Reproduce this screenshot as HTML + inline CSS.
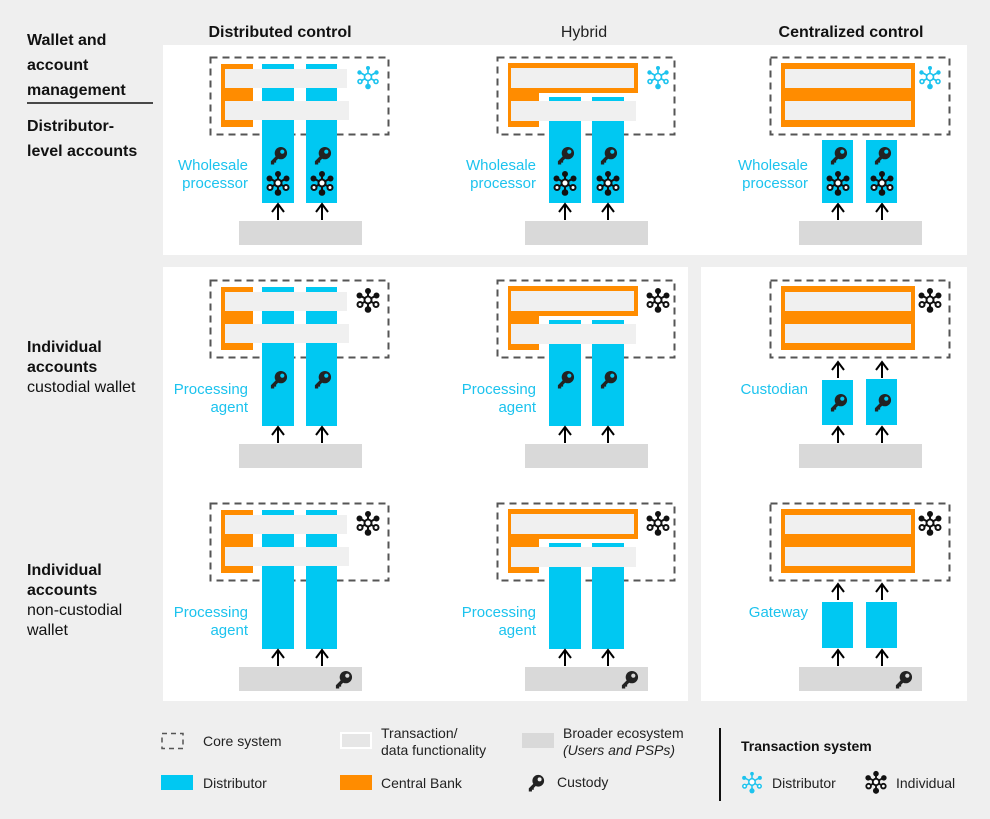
<!DOCTYPE html>
<html><head><meta charset="utf-8"><style>
html,body{margin:0;padding:0;background:#efefef}
svg{display:block;font-family:"Liberation Sans",sans-serif}
</style></head><body>
<svg width="990" height="819" viewBox="0 0 990 819" xmlns="http://www.w3.org/2000/svg">
<defs>
<symbol id="key" viewBox="0 0 20 20" overflow="visible">
<circle cx="12.5" cy="7.5" r="6.5" fill="#222"/>
<path d="M8.5 9.5 L2 16 L2 19.5 L5.5 19.5 L5.5 17.5 L7.5 17.5 L7.5 15.5 L12 11z" fill="#222"/>
<circle cx="14" cy="6" r="2.2"/>
</symbol>
<symbol id="ind" viewBox="0 0 26 26" overflow="visible">
<g stroke="#111" stroke-width="2" fill="none">
<line x1="13" y1="13" x2="13" y2="4"/><line x1="13" y1="13" x2="21" y2="8.5"/><line x1="13" y1="13" x2="21" y2="17.5"/><line x1="13" y1="13" x2="13" y2="22"/><line x1="13" y1="13" x2="5" y2="17.5"/><line x1="13" y1="13" x2="5" y2="8.5"/>
<circle cx="13" cy="13" r="3.5" fill="#fff"/>
<circle cx="21" cy="17.5" r="2.5" fill="#fff"/><circle cx="5" cy="17.5" r="2.5" fill="#fff"/>
</g>
<circle cx="13" cy="4" r="3" fill="#111"/><circle cx="21.5" cy="8.5" r="3" fill="#111"/><circle cx="4.5" cy="8.5" r="3" fill="#111"/><circle cx="13" cy="22.5" r="3.3" fill="#111"/>
</symbol>
<symbol id="dis" viewBox="0 0 26 26" overflow="visible">
<g stroke="#1cc3ee" stroke-width="1.6" fill="none">
<line x1="13" y1="13" x2="13" y2="4"/><line x1="13" y1="13" x2="21" y2="8.5"/><line x1="13" y1="13" x2="21" y2="17.5"/><line x1="13" y1="13" x2="13" y2="22"/><line x1="13" y1="13" x2="5" y2="17.5"/><line x1="13" y1="13" x2="5" y2="8.5"/>
<circle cx="13" cy="13" r="3.5" fill="#fff"/>
<circle cx="21" cy="17.5" r="2" fill="#fff"/><circle cx="5" cy="17.5" r="2" fill="#fff"/>
</g>
<circle cx="13" cy="4" r="2" fill="#1cc3ee"/><circle cx="21.5" cy="8.5" r="2.2" fill="#1cc3ee"/><circle cx="4.5" cy="8.5" r="2.2" fill="#1cc3ee"/><circle cx="13" cy="22.5" r="2.8" fill="#1cc3ee"/>
</symbol>
<g id="arr"><line x1="0" y1="0" x2="0" y2="-16" stroke="#000" stroke-width="2"/><polyline points="-6,-8 0,-16 6,-8" fill="none" stroke="#000" stroke-width="2"/></g>
</defs>

<!-- panels -->
<rect x="163" y="45" width="804" height="210" fill="#fff"/>
<rect x="163" y="267" width="525" height="434" fill="#fff"/>
<rect x="701" y="267" width="266" height="434" fill="#fff"/>

<!-- headers -->
<text x="280" y="37" text-anchor="middle" font-size="16" font-weight="bold" fill="#111">Distributed control</text>
<text x="584" y="37" text-anchor="middle" font-size="16" fill="#222">Hybrid</text>
<text x="851" y="37" text-anchor="middle" font-size="16" font-weight="bold" fill="#111">Centralized control</text>

<g font-size="16" fill="#111">
<text x="27" y="45" font-weight="bold">Wallet and</text>
<text x="27" y="70" font-weight="bold">account</text>
<text x="27" y="95" font-weight="bold">management</text>
<line x1="27" y1="103" x2="153" y2="103" stroke="#111" stroke-width="1.5"/>
<text x="27" y="131" font-weight="bold">Distributor-</text>
<text x="27" y="156" font-weight="bold">level accounts</text>
<text x="27" y="352" font-weight="bold">Individual</text>
<text x="27" y="372" font-weight="bold">accounts</text>
<text x="27" y="392">custodial wallet</text>
<text x="27" y="575" font-weight="bold">Individual</text>
<text x="27" y="595" font-weight="bold">accounts</text>
<text x="27" y="615">non-custodial</text>
<text x="27" y="635">wallet</text>
</g>

<!-- DISTRIBUTED template -->
<g id="distT">
<rect x="210.5" y="57.5" width="178" height="77" fill="none" stroke="#555" stroke-width="2" stroke-dasharray="7 5"/>
<rect x="221" y="64" width="32" height="63" fill="#ff8c00"/>
<rect x="262" y="64" width="32" height="139" fill="#00c8f2"/>
<rect x="306" y="64" width="31" height="139" fill="#00c8f2"/>
<rect x="225" y="69" width="122" height="19" fill="#f0f0f0"/>
<rect x="225" y="101" width="124" height="19" fill="#f0f0f0"/>
<use href="#arr" x="278" y="220"/><use href="#arr" x="322" y="220"/>
<rect x="239" y="221" width="123" height="24" fill="#d9d9d9"/>
</g>
<use href="#distT" y="223"/>
<use href="#distT" y="446"/>
<use href="#dis" x="355" y="64" width="26" height="26"/>
<use href="#ind" x="355" y="287" width="26" height="26"/>
<use href="#ind" x="355" y="510" width="26" height="26"/>
<use href="#key" x="269" y="145" width="19" height="21" fill="#00c8f2"/>
<use href="#key" x="313" y="145" width="19" height="21" fill="#00c8f2"/>
<use href="#ind" x="265" y="170" width="26" height="26"/>
<use href="#ind" x="309" y="170" width="26" height="26"/>
<use href="#key" x="269" y="369" width="19" height="21" fill="#00c8f2"/>
<use href="#key" x="313" y="369" width="19" height="21" fill="#00c8f2"/>
<use href="#key" x="334" y="669" width="19" height="21" fill="#d9d9d9"/>

<!-- HYBRID template -->
<g id="hybT">
<rect x="497.5" y="57.5" width="177" height="77" fill="none" stroke="#555" stroke-width="2" stroke-dasharray="7 5"/>
<rect x="508" y="63" width="130" height="30" fill="#ff8c00"/>
<rect x="508" y="63" width="31" height="64" fill="#ff8c00"/>
<rect x="549" y="97" width="32" height="106" fill="#00c8f2"/>
<rect x="592" y="97" width="32" height="106" fill="#00c8f2"/>
<rect x="511" y="68" width="123" height="20" fill="#f0f0f0"/>
<rect x="511" y="101" width="125" height="20" fill="#f0f0f0"/>
<use href="#arr" x="565" y="220"/><use href="#arr" x="608" y="220"/>
<rect x="525" y="221" width="123" height="24" fill="#d9d9d9"/>
</g>
<use href="#hybT" y="223"/>
<use href="#hybT" y="446"/>
<use href="#dis" x="645" y="64" width="26" height="26"/>
<use href="#ind" x="645" y="287" width="26" height="26"/>
<use href="#ind" x="645" y="510" width="26" height="26"/>
<use href="#key" x="556" y="145" width="19" height="21" fill="#00c8f2"/>
<use href="#key" x="599" y="145" width="19" height="21" fill="#00c8f2"/>
<use href="#ind" x="552" y="170" width="26" height="26"/>
<use href="#ind" x="595" y="170" width="26" height="26"/>
<use href="#key" x="556" y="369" width="19" height="21" fill="#00c8f2"/>
<use href="#key" x="599" y="369" width="19" height="21" fill="#00c8f2"/>
<use href="#key" x="620" y="669" width="19" height="21" fill="#d9d9d9"/>

<!-- CENTRALIZED -->
<g id="cenT">
<rect x="770.5" y="57.5" width="179" height="77" fill="none" stroke="#555" stroke-width="2" stroke-dasharray="7 5"/>
<rect x="781" y="63" width="134" height="64" fill="#ff8c00"/>
<rect x="785" y="69" width="126" height="19" fill="#f0f0f0"/>
<rect x="785" y="101" width="126" height="19" fill="#f0f0f0"/>
<use href="#arr" x="838" y="220"/><use href="#arr" x="882" y="220"/>
<rect x="799" y="221" width="123" height="24" fill="#d9d9d9"/>
</g>
<use href="#cenT" y="223"/>
<use href="#cenT" y="446"/>
<rect x="822" y="140" width="31" height="63" fill="#00c8f2"/>
<rect x="866" y="140" width="31" height="63" fill="#00c8f2"/>
<use href="#dis" x="917" y="64" width="26" height="26"/>
<use href="#key" x="829" y="145" width="19" height="21" fill="#00c8f2"/>
<use href="#key" x="873" y="145" width="19" height="21" fill="#00c8f2"/>
<use href="#ind" x="825" y="170" width="26" height="26"/>
<use href="#ind" x="869" y="170" width="26" height="26"/>
<!-- row2 -->
<rect x="822" y="380" width="31" height="45" fill="#00c8f2"/>
<rect x="866" y="379" width="31" height="46" fill="#00c8f2"/>
<use href="#arr" x="838" y="378"/><use href="#arr" x="882" y="378"/>
<use href="#ind" x="917" y="287" width="26" height="26"/>
<use href="#key" x="829" y="392" width="19" height="21" fill="#00c8f2"/>
<use href="#key" x="873" y="392" width="19" height="21" fill="#00c8f2"/>
<!-- row3 -->
<rect x="822" y="602" width="31" height="46" fill="#00c8f2"/>
<rect x="866" y="602" width="31" height="46" fill="#00c8f2"/>
<use href="#arr" x="838" y="600"/><use href="#arr" x="882" y="600"/>
<use href="#ind" x="917" y="510" width="26" height="26"/>
<use href="#key" x="894" y="669" width="19" height="21" fill="#d9d9d9"/>

<!-- cell labels -->
<g font-size="15" fill="#1cc3ee" text-anchor="end">
<text x="248" y="170">Wholesale</text><text x="248" y="188">processor</text>
<text x="536" y="170">Wholesale</text><text x="536" y="188">processor</text>
<text x="808" y="170">Wholesale</text><text x="808" y="188">processor</text>
<text x="248" y="394">Processing</text><text x="248" y="412">agent</text>
<text x="536" y="394">Processing</text><text x="536" y="412">agent</text>
<text x="808" y="394">Custodian</text>
<text x="248" y="617">Processing</text><text x="248" y="635">agent</text>
<text x="536" y="617">Processing</text><text x="536" y="635">agent</text>
<text x="808" y="617">Gateway</text>
</g>

<!-- legend -->
<g font-size="14" fill="#222">
<rect x="162" y="733.5" width="21" height="15" fill="none" stroke="#555" stroke-width="1.5" stroke-dasharray="5 4"/>
<text x="203" y="746">Core system</text>
<rect x="341" y="733" width="30" height="15" fill="#e6e6e6" stroke="#fff" stroke-width="2"/>
<text x="381" y="738">Transaction/</text><text x="381" y="755">data functionality</text>
<rect x="522" y="733" width="32" height="15" fill="#d9d9d9"/>
<text x="563" y="738">Broader ecosystem</text><text x="563" y="755" font-style="italic">(Users and PSPs)</text>
<rect x="161" y="775" width="32" height="15" fill="#00c8f2"/>
<text x="203" y="788">Distributor</text>
<rect x="340" y="775" width="32" height="15" fill="#ff8c00"/>
<text x="381" y="788">Central Bank</text>
<use href="#key" x="527" y="773" width="18" height="20" fill="#efefef"/>
<text x="557" y="787">Custody</text>
<line x1="720" y1="728" x2="720" y2="801" stroke="#111" stroke-width="2"/>
<text x="741" y="751" font-weight="bold" fill="#111">Transaction system</text>
<use href="#dis" x="740" y="770" width="24" height="24"/>
<text x="772" y="788">Distributor</text>
<use href="#ind" x="864" y="770" width="24" height="24"/>
<text x="896" y="788">Individual</text>
</g>
</svg>
</body></html>
